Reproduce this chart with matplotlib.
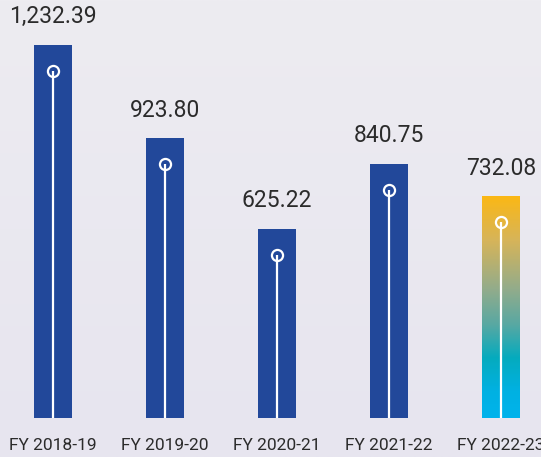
import numpy as np
import matplotlib.pyplot as plt
from matplotlib.colors import LinearSegmentedColormap

# Data
years = ['FY 2018-19', 'FY 2019-20', 'FY 2020-21', 'FY 2021-22', 'FY 2022-23']
values = [1232.39, 923.80, 625.22, 840.75, 732.08]
value_labels = ['1,232.39', '923.80', '625.22', '840.75', '732.08']

W, H = 541, 457
bar_blue = '#22489A'
text_col = '#2B2B2B'

plt.rcParams['font.family'] = ['Roboto', 'DejaVu Sans']

fig = plt.figure(figsize=(W / 100, H / 100), dpi=100)
fig.patch.set_facecolor('#EAE8F0')
ax = fig.add_axes([0, 0, 1, 1])
ax.set_facecolor('none')

# pixel-based scale: 112 px between bars, 0 at y=418 px, ~0.3027 px per unit
px_per_unit = 0.3027
x_step = 112
ax.set_xlim(-53 / x_step, (W - 53) / x_step)
ax.set_ylim(-(H - 418) / px_per_unit, 418 / px_per_unit)
ax.axis('off')

# soft background gradient
bg = np.linspace(0, 1, 256).reshape(-1, 1)
bg_cmap = LinearSegmentedColormap.from_list('bg', ['#E7E5EF', '#EDECF1'])
ax.imshow(bg, cmap=bg_cmap, aspect='auto', extent=[*ax.get_xlim(), *ax.get_ylim()[::-1]],
          zorder=0)
ax.set_xlim(-53 / x_step, (W - 53) / x_step)
ax.set_ylim(-(H - 418) / px_per_unit, 418 / px_per_unit)

xs = np.arange(len(years))
bw = 38 / x_step
grad_cmap = LinearSegmentedColormap.from_list(
    'g', [(0, '#00B3EC'), (0.12, '#01B1E2'), (0.27, '#05ABBE'),
          (0.42, '#58A8A3'), (0.58, '#92AC8B'), (0.8, '#D6B45A'), (1, '#FBB815')])

for i, (x, v) in enumerate(zip(xs, values)):
    if i == len(values) - 1:
        g = np.linspace(0, 1, 256).reshape(-1, 1)
        ax.imshow(g, cmap=grad_cmap, origin='lower', aspect='auto',
                  extent=[x - bw / 2, x + bw / 2, 0, v], zorder=2)
    else:
        ax.bar(x, v, width=bw, color=bar_blue, zorder=2)

    # white stem + ring marker
    my = v - 26 / px_per_unit
    ax.plot([x, x], [0, my], color='white', lw=1.6, zorder=3, solid_capstyle='butt')
    ax.plot(x, my, marker='o', ms=8, mfc='none', mec='white', mew=1.6, zorder=4)

    ax.annotate(value_labels[i], (x, v), xytext=(0, 12), textcoords='offset points',
                ha='center', va='bottom', fontsize=16.5, color=text_col, zorder=5)
    ax.text(x, 1 - 450 / H, years[i], transform=ax.get_xaxis_transform(),
            ha='center', va='baseline', fontsize=12.5, color=text_col)

fig.savefig('out.png', dpi=100, facecolor=fig.get_facecolor())
